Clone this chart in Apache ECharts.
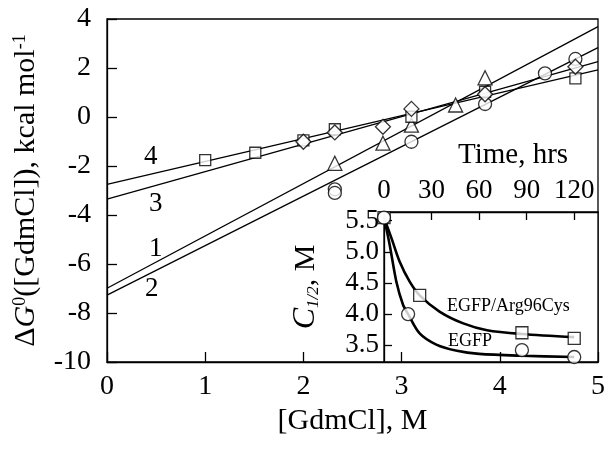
<!DOCTYPE html>
<html>
<head>
<meta charset="utf-8">
<script src="https://cdn.jsdelivr.net/npm/echarts@6/dist/echarts.min.js"></script>
<style>html,body{margin:0;padding:0;background:#fff}#c{width:612px;height:454px}</style>
</head>
<body>
<div id="c"></div>
<script>
// ---- Main plot data: [GdmCl] (M) vs ΔG0 (kcal/mol) ----
var squaresX = [1.0, 1.51, 2.0, 2.32, 3.1, 3.85, 4.77];
var squaresY = [-1.76, -1.46, -0.95, -0.5, 0.01, 1.03, 1.58];
var diamondsX = [2.0, 2.32, 2.81, 3.1, 3.85, 4.77];
var diamondsY = [-1.01, -0.63, -0.40, 0.33, 0.93, 2.05];
var trianglesX = [2.32, 2.81, 3.1, 3.55, 3.85];
var trianglesY = [-1.89, -1.07, -0.33, 0.49, 1.6];
var circlesX = [2.32, 2.32, 3.1, 3.85, 4.46, 4.77];
var circlesY = [-2.95, -3.1, -1.01, 0.53, 1.78, 2.37];

// fitted lines (endpoints at x=0 and x=5)
var fitX = [0, 5];
var fit1Y = [-6.99, 3.69];
var fit2Y = [-7.27, 2.83];
var fit3Y = [-3.35, 2.26];
var fit4Y = [-2.75, 1.92];

var xTicks = [0, 1, 2, 3, 4, 5];
var yTicks = [-10, -8, -6, -4, -2, 0, 2, 4];

// ---- Inset data: time (hrs) vs C1/2 (M) ----
var egfpT = [0, 15.2, 87, 120];
var egfpC = [5.55, 4.0, 3.42, 3.31];
var mutT = [0, 22.5, 87, 120];
var mutC = [5.55, 4.30, 3.70, 3.61];
// fitted curves
var egfpCurveT = [0, 3.6, 7.8, 12, 15.2, 22.5, 33, 46, 60, 87, 120];
var egfpCurveC = [5.55, 5.11, 4.52, 4.15, 4.0, 3.69, 3.51, 3.41, 3.36, 3.33, 3.31];
var mutCurveT = [0, 4.7, 9.9, 16.2, 22.5, 35, 50, 65, 87, 120];
var mutCurveC = [5.55, 5.22, 4.84, 4.52, 4.30, 4.04, 3.85, 3.74, 3.68, 3.63];
var insetXTicks = [0, 30, 60, 90, 120];
var insetYTicks = [3.5, 4.0, 4.5, 5.0, 5.5];

var lineLabels = ['4', '3', '1', '2'];

function zip(a, b) { return a.map(function (v, i) { return [v, b[i]]; }); }

var FONT = 'Liberation Serif';
var chart = echarts.init(document.getElementById('c'), null, {renderer: 'canvas'});

var markerStyle = {color: '#fff', borderColor: '#000', borderWidth: 1.3};
var fitStyle = {color: '#000', width: 1.3};
var axisLineStyle = {onZero: false, lineStyle: {color: '#000', width: 1.3}};

function fitSeries(ys) {
  return {type: 'line', xAxisIndex: 0, yAxisIndex: 0, data: zip(fitX, ys), showSymbol: false, symbol: 'none',
    lineStyle: fitStyle, silent: true, z: 2, animation: false};
}
function scatter(xs, ys, sym, size, xi) {
  return {type: 'scatter', xAxisIndex: xi, yAxisIndex: xi, data: zip(xs, ys), symbol: sym, symbolSize: size,
    itemStyle: markerStyle, z: 5, animation: false};
}

var option = {
  animation: false,
  backgroundColor: '#fff',
  textStyle: {fontFamily: FONT, color: '#000'},
  grid: [
    {left: 107, top: 19, right: 14, bottom: 92, show: true, borderColor: '#000', borderWidth: 1.3, backgroundColor: 'transparent'},
    {left: 384, top: 212, right: 14, bottom: 92, show: true, borderColor: '#000', borderWidth: 1.3, backgroundColor: '#fff', z: 1}
  ],
  xAxis: [
    {type: 'value', gridIndex: 0, min: 0, max: 5, interval: 1, z: 6,
      axisLine: axisLineStyle,
      axisTick: {inside: true, length: 10, lineStyle: {color: '#000', width: 1.3}},
      axisLabel: {color: '#000', margin: 11, fontFamily: FONT, fontSize: 28},
      splitLine: {show: false},
      name: '[GdmCl], M', nameLocation: 'middle', nameGap: 33,
      nameTextStyle: {color: '#000', fontFamily: FONT, fontSize: 30}},
    {type: 'value', gridIndex: 1, position: 'top', min: 0, max: 135, z: 6,
      axisLine: axisLineStyle,
      axisTick: {inside: true, length: 8, lineStyle: {color: '#000', width: 1.3}, customValues: insetXTicks},
      axisLabel: {color: '#000', margin: 8, fontFamily: FONT, fontSize: 27, customValues: insetXTicks},
      splitLine: {show: false}}
  ],
  yAxis: [
    {type: 'value', gridIndex: 0, min: -10, max: 4, interval: 2, z: 6,
      axisLine: axisLineStyle,
      axisTick: {inside: true, length: 10, lineStyle: {color: '#000', width: 1.3}},
      axisLabel: {color: '#000', margin: 16, fontFamily: FONT, fontSize: 28},
      splitLine: {show: false},
      name: '{a|Δ}{i|G}{s|0}{a|([GdmCl]), kcal mol}{s|-1}', nameLocation: 'middle', nameGap: 66, nameRotate: 90,
      nameTextStyle: {color: '#000', fontFamily: FONT, fontSize: 30,
        rich: {
          a: {fontFamily: FONT, fontSize: 30, color: '#000'},
          i: {fontFamily: FONT, fontSize: 30, fontStyle: 'italic', color: '#000'},
          s: {fontFamily: FONT, fontSize: 18, color: '#000', verticalAlign: 'top'}
        }}},
    {type: 'value', gridIndex: 1, min: 3.23, max: 5.64, z: 6,
      axisLine: axisLineStyle,
      axisTick: {inside: true, length: 8, lineStyle: {color: '#000', width: 1.3}, customValues: insetYTicks},
      axisLabel: {color: '#000', margin: 5, fontFamily: FONT, fontSize: 27,
        customValues: insetYTicks, formatter: function (v) { return v.toFixed(1); }},
      splitLine: {show: false},
      name: '{i|C}{s|1/2}{a|, M}', nameLocation: 'middle', nameGap: 62, nameRotate: 90,
      nameTextStyle: {color: '#000', fontFamily: FONT, fontSize: 30,
        rich: {
          a: {fontFamily: FONT, fontSize: 30, color: '#000'},
          i: {fontFamily: FONT, fontSize: 32, fontStyle: 'italic', color: '#000'},
          s: {fontFamily: FONT, fontSize: 17, fontStyle: 'italic', color: '#000', verticalAlign: 'bottom'}
        }}}
  ],
  graphic: [
    {type: 'text', left: 144, top: 143, style: {text: lineLabels[0], font: '27px "Liberation Serif"', fill: '#000'}},
    {type: 'text', left: 149, top: 190, style: {text: lineLabels[1], font: '27px "Liberation Serif"', fill: '#000'}},
    {type: 'text', left: 149, top: 235, style: {text: lineLabels[2], font: '27px "Liberation Serif"', fill: '#000'}},
    {type: 'text', left: 145, top: 275, style: {text: lineLabels[3], font: '27px "Liberation Serif"', fill: '#000'}},
    {type: 'text', left: 458, top: 141, style: {text: 'Time, hrs', font: '29px "Liberation Serif"', fill: '#000'}},
    {type: 'text', left: 447, top: 297, z: 10, style: {text: 'EGFP/Arg96Cys', font: '18px "Liberation Serif"', fill: '#000'}},
    {type: 'text', left: 448, top: 332, z: 10, style: {text: 'EGFP', font: '18px "Liberation Serif"', fill: '#000'}}
  ],
  series: [
    fitSeries(fit1Y), fitSeries(fit2Y), fitSeries(fit3Y), fitSeries(fit4Y),
    scatter(circlesX, circlesY, 'circle', 13, 0),
    scatter(trianglesX, trianglesY, 'triangle', 14, 0),
    scatter(squaresX, squaresY, 'rect', 11, 0),
    scatter(diamondsX, diamondsY, 'diamond', 15, 0),
    {type: 'line', xAxisIndex: 1, yAxisIndex: 1, data: zip(egfpCurveT, egfpCurveC), symbol: 'none', smooth: 0.3,
      lineStyle: {color: '#000', width: 2.6}, z: 6, animation: false},
    {type: 'line', xAxisIndex: 1, yAxisIndex: 1, data: zip(mutCurveT, mutCurveC), symbol: 'none', smooth: 0.3,
      lineStyle: {color: '#000', width: 2.6}, z: 6, animation: false},
    {type: 'scatter', xAxisIndex: 1, yAxisIndex: 1, data: zip(mutT, mutC), symbol: 'rect', symbolSize: 12,
      itemStyle: markerStyle, z: 7, animation: false},
    {type: 'scatter', xAxisIndex: 1, yAxisIndex: 1, data: zip(egfpT, egfpC), symbol: 'circle', symbolSize: 13,
      itemStyle: markerStyle, z: 8, animation: false}
  ]
};
chart.setOption(option);
</script>
</body>
</html>
